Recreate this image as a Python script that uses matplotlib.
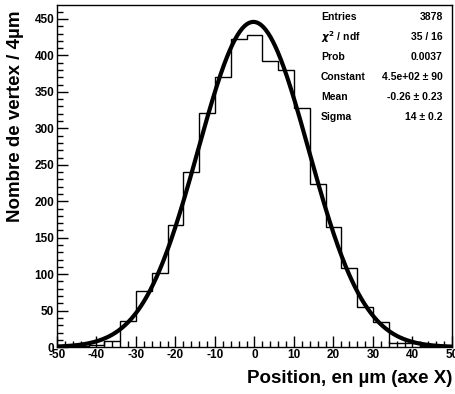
import numpy as np
import matplotlib
matplotlib.use("Agg")
import matplotlib.pyplot as plt
from matplotlib.ticker import MultipleLocator

plt.rcParams["font.family"] = ["Liberation Sans", "DejaVu Sans"]
plt.rcParams["font.weight"] = "bold"
plt.rcParams["axes.unicode_minus"] = False

# histogram: 25 bins of 4 um between -50 and 50
bin_edges = [-50, -46, -42, -38, -34, -30, -26, -22, -18, -14, -10, -6, -2,
             2, 6, 10, 14, 18, 22, 26, 30, 34, 38, 42, 46, 50]
counts = [1, 1, 3, 8, 36, 77, 102, 167, 240, 321, 370, 423, 428,
          392, 380, 328, 224, 165, 108, 55, 35, 5, 5, 1, 0]

# gaussian fit parameters
fit_const = 446.0
fit_mean = -0.26
fit_sigma = 14.0

stat_names = ["Entries", r"$\chi^2$ / ndf", "Prob", "Constant", "Mean", "Sigma"]
stat_values = ["3878", "35 / 16", "0.0037", "4.5e+02 ± 90", "-0.26 ± 0.23", "14 ± 0.2"]

fig = plt.figure(figsize=(4.56, 3.94), dpi=100)
ax = fig.add_axes([0.125, 0.119, 0.866, 0.868])

ax.stairs(counts, bin_edges, color="black", linewidth=1.0)

xf = np.linspace(-50, 50, 500)
yf = fit_const * np.exp(-0.5 * ((xf - fit_mean) / fit_sigma) ** 2)
ax.plot(xf, yf, color="black", linewidth=3.0, solid_capstyle="round")

ax.set_xlim(-50, 50)
ax.set_ylim(0, 469)
ax.xaxis.set_major_locator(MultipleLocator(10))
ax.xaxis.set_minor_locator(MultipleLocator(2))
ax.yaxis.set_major_locator(MultipleLocator(50))
ax.yaxis.set_minor_locator(MultipleLocator(10))
ax.tick_params(which="both", direction="in", top=False, right=False,
               labelsize=8.5, width=1, pad=2)
ax.tick_params(which="major", length=8)
ax.tick_params(which="minor", length=4.5)
ax.tick_params(axis="x", which="both", pad=1)
for lab in ax.get_xticklabels() + ax.get_yticklabels():
    lab.set_fontweight("bold")
for sp in ax.spines.values():
    sp.set_linewidth(1.0)

ax.set_xlabel("Position, en µm (axe X)", fontsize=13.5, fontweight="bold",
              loc="right", labelpad=7)
ylab = ax.set_ylabel("Nombre de vertex / 4µm", fontsize=13.5, fontweight="bold")
ylab.set_rotation_mode("default")
ylab.set_horizontalalignment("left")
ylab.set_verticalalignment("top")
ax.yaxis.set_label_coords(-0.126, 0.985)

for i, (name, val) in enumerate(zip(stat_names, stat_values)):
    ypos = 0.965 - i * 0.0587
    ax.text(0.668, ypos, name, transform=ax.transAxes, fontsize=7.5,
            fontweight="bold", va="center", ha="left")
    ax.text(0.977, ypos, val, transform=ax.transAxes, fontsize=7.5,
            fontweight="bold", va="center", ha="right")

fig.savefig("out.png", dpi=100)
